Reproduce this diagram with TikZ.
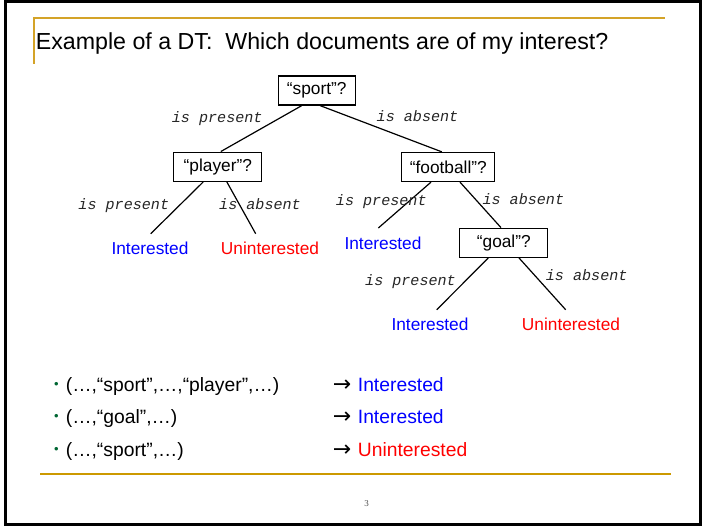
\documentclass[tikz,border=0pt]{standalone}
\usepackage{fontspec}
\setmainfont{Liberation Sans}
\newfontfamily\cour{Liberation Mono}
\newfontfamily\tnr{Liberation Serif}
\newfontfamily\dejavu{DejaVu Sans}
\definecolor{gold}{RGB}{212,163,40}
\definecolor{goldb}{RGB}{204,153,0}
\definecolor{bgreen}{RGB}{0,102,51}
\definecolor{ublue}{RGB}{0,0,255}
\definecolor{ured}{RGB}{255,0,0}
\begin{document}
\begin{tikzpicture}[x=1pt,y=-1pt,
  qbox/.style={draw,line width=1.3pt,inner sep=0pt,minimum height=29pt,font=\fontsize{17.3}{20}\selectfont},
  leaf/.style={inner sep=0pt,font=\fontsize{17.3}{20}\selectfont},
  elabel/.style={anchor=base,inner sep=0pt,text=black!85,font=\cour\itshape\fontsize{15.1}{17}\selectfont},
  branch/.style={line width=1.2pt},
  rowtext/.style={anchor=base west,inner sep=0pt,font=\fontsize{19.3}{22}\selectfont},
  dot/.style={inner sep=0pt,text=bgreen,font=\fontsize{13}{15}\selectfont},
  arr/.style={inner sep=0pt,font=\dejavu\fontsize{22}{24}\selectfont}]
\useasboundingbox (0,0) rectangle (705,526);
\fill[white] (0,0) rectangle (705,526);
\draw[line width=3pt] (5,1.5) rectangle (700.5,524.5);
% gold rules
\draw[gold,line width=2pt] (34,64) -- (34,18.3) -- (664.5,18.3);
\draw[goldb,line width=2.2pt] (40,474) -- (671,474);
% title
\node[anchor=base west,inner sep=0pt,font=\fontsize{23.2}{26}\selectfont] (title) at (35.7,50) {Example of a DT:\ \ Which documents are of my interest?};
% tree
\node[qbox,minimum width=77pt] (sport) at (316.7,90.5) {“sport”?};
\node[qbox,minimum width=88pt] (player) at (217.8,166.7) {“player”?};
\node[qbox,minimum width=93pt] (football) at (448.3,167) {“football”?};
\node[qbox,minimum width=88pt] (goal) at (503.8,242.8) {“goal”?};
\node[leaf,text=ublue] (i1) at (150,248) {Interested};
\node[leaf,text=ured] (u1) at (270,248) {Uninterested};
\node[leaf,text=ublue] (i2) at (383,243) {Interested};
\node[leaf,text=ublue] (i3) at (430,324) {Interested};
\node[leaf,text=ured] (u3) at (571,324) {Uninterested};
\draw[branch] ([xshift=-15pt]sport.south) -- ([xshift=3pt]player.north);
\draw[branch] ([xshift=3.5pt]sport.south) -- ([xshift=-6.5pt]football.north);
\draw[branch] ([xshift=-14.5pt]player.south) -- ([xshift=0.7pt,yshift=7.7pt]i1.north);
\draw[branch] ([xshift=9pt]player.south) -- ([xshift=-14.3pt,yshift=7.7pt]u1.north);
\draw[branch] ([xshift=-17.3pt]football.south) -- ([xshift=-4.7pt,yshift=8.4pt]i2.north);
\draw[branch] ([xshift=11.7pt]football.south) -- ([xshift=-2.8pt]goal.north);
\draw[branch] ([xshift=-15.5pt]goal.south) -- ([xshift=6.7pt,yshift=7.7pt]i3.north);
\draw[branch] ([xshift=15.2pt]goal.south) -- ([xshift=-5.3pt,yshift=7.7pt]u3.north);
% edge labels
\node[elabel] (l1) at (217.2,122.5) {is present};
\node[elabel] (l2) at (417.5,122) {is absent};
\node[elabel] (l3) at (123.8,210) {is present};
\node[elabel] (l4) at (260,210) {is absent};
\node[elabel] (l5) at (381.3,205.3) {is present};
\node[elabel] (l6) at (523.3,204.7) {is absent};
\node[elabel] (l7) at (410.5,286) {is present};
\node[elabel] (l8) at (586.7,280.7) {is absent};
% bullets
\node[dot] (b1) at (56.5,385) {•};
\node[dot] (b2) at (56.5,417.5) {•};
\node[dot] (b3) at (56.5,450) {•};
\node[rowtext] (r1) at (65.7,391.7) {(…,“sport”,…,“player”,…)};
\node[rowtext] (r2) at (65.7,424) {(…,“goal”,…)};
\node[rowtext] (r3) at (65.7,456.7) {(…,“sport”,…)};
\node[arr] (a1) at (342.2,385.7) {→};
\node[arr] (a2) at (342.2,418) {→};
\node[arr] (a3) at (342.2,450.5) {→};
\node[rowtext,text=ublue] (c1) at (357.7,391.7) {Interested};
\node[rowtext,text=ublue] (c2) at (357.7,424) {Interested};
\node[rowtext,text=ured] (c3) at (357.7,456.7) {Uninterested};
% page number
\node[anchor=base,inner sep=0pt,text=black!70,font=\tnr\fontsize{9}{10}\selectfont] (pg) at (366.5,506.5) {3};
\end{tikzpicture}
\end{document}
